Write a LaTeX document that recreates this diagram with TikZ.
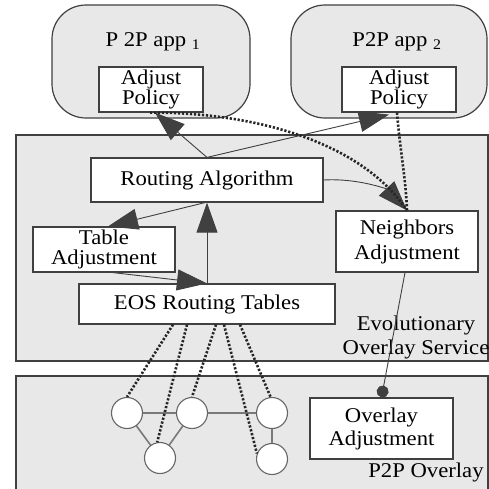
\documentclass[tikz,border=0pt]{standalone}
\usepackage{fontspec}
\setmainfont[FakeStretch=1.08]{Liberation Serif}
\usetikzlibrary{arrows.meta,calc}
\definecolor{panel}{HTML}{E8E8E8}
\definecolor{edge}{HTML}{404040}
\begin{document}
\begin{tikzpicture}[x=1pt,y=-1pt,
  txt/.style={font=\fontsize{21}{21}\selectfont, text=black, align=center, inner sep=0pt},
  appbox/.style={draw=edge, line width=1.2pt, fill=panel, rounded corners=34pt},
  wbox/.style={draw=edge, line width=1.2pt, fill=white, txt},
  panelbox/.style={draw=edge, line width=1.4pt, fill=panel},
  arr/.style={draw=edge, line width=0.9pt, arrows={-Triangle[length=30pt,width=21pt]}},
  dots/.style={line width=2.6pt, dash pattern=on 2.2pt off 1.8pt, draw=black!85},
  peer/.style={circle, draw=edge!80, line width=1.1pt, fill=white, minimum size=31pt, inner sep=0pt},
  plink/.style={draw=edge!70, line width=1.6pt}
]
\clip (0,0) rectangle (489,488);
\fill[white] (0,0) rectangle (489,488);

% application boxes
\node[appbox, minimum width=198pt, minimum height=113pt] (app1) at (151,61.5) {};
\node[appbox, minimum width=196pt, minimum height=113pt] (app2) at (389,61.5) {};
\node[txt] (app1lbl) at (153,42) {P 2P app \textsubscript{1}};
\node[txt] (app2lbl) at (397,42) {P2P app \textsubscript{2}};
\node[wbox, minimum width=104pt, minimum height=45pt, font=\fontsize{21}{20}\selectfont] (ap1) at (151,89.5) {Adjust\\Policy};
\node[wbox, minimum width=114pt, minimum height=45pt, font=\fontsize{21}{20}\selectfont] (ap2) at (399,89.5) {Adjust\\Policy};

% service panel
\node[panelbox, minimum width=472pt, minimum height=226pt, inner sep=0pt] (eosp) at (252,248) {};
\node[wbox, minimum width=232pt, minimum height=44pt] (ra) at (207,180) {Routing Algorithm};
\node[wbox, minimum width=142pt, minimum height=45pt, font=\fontsize{21}{19.5}\selectfont] (ta) at (104,249.5) {Table\\Adjustment};
\node[wbox, minimum width=256pt, minimum height=40pt] (eos) at (207,304) {EOS Routing Tables};
\node[wbox, minimum width=142pt, minimum height=61pt, font=\fontsize{21}{25}\selectfont] (na) at (407,241.5) {Neighbors\\Adjustment};
\node[txt, font=\fontsize{21}{24}\selectfont] (eoslbl) at (416,337) {Evolutionary\\Overlay Service};

% overlay panel
\node[panelbox, minimum width=472pt, minimum height=124pt, inner sep=0pt] (ovp) at (252,438) {};
\node[wbox, minimum width=143pt, minimum height=61pt, font=\fontsize{21}{23}\selectfont] (oa) at (381.5,428.5) {Overlay\\Adjustment};
\node[txt] (ovlbl) at (426,472) {P2P Overlay};

% peers
\coordinate (p1) at (127,413);
\coordinate (p2) at (192,413);
\coordinate (p3) at (160,458);
\coordinate (p4) at (272,413);
\coordinate (p5) at (272,459);
\draw[plink] (p1) -- (p2);
\draw[plink] (p2) -- (p4);
\draw[plink] (p1) -- (p3);
\draw[plink] (p2) -- (p3);
\draw[plink] (p4) -- (p5);
\node[peer] (c1) at (p1) {};
\node[peer] (c2) at (p2) {};
\node[peer] (c3) at (p3) {};
\node[peer] (c4) at (p4) {};
\node[peer] (c5) at (p5) {};

% arrows
\draw[arr] (ra.north) -- ($(ap1.south)+(4,0)$);
\draw[arr] (ra.north) -- ($(ap2.south)+(-10,2)$);
\draw[arr] (ra.east) .. controls (360,178) and (388,190) .. (na.north);
\draw[arr] ($(ra.south)+(-2,0)$) -- ($(ta.north)+(4,0)$);
\draw[arr] (eos.north) -- (ra.south);
\draw[arr] ($(ta.south)+(9,0)$) -- (eos.north);
\draw[draw=edge, line width=0.9pt, arrows={-Circle[length=12pt,width=12pt]}] ($(na.south)+(-2,0)$) -- (oa.north);

% dotted links
\draw[dots] ($(ap1.south)+(-1,0)$) .. controls (250,112) and (360,140) .. (na.north);
\draw[dots] ($(ap2.south)+(-2,0)$) .. controls (400,150) and (406,180) .. (na.north);
\draw[dots] ($(eos.south)+(-34,0)$) -- (c1.north);
\draw[dots] ($(eos.south)+(-20,0)$) -- (c3.100);
\draw[dots] ($(eos.south)+(9,0)$) -- (c2.north);
\draw[dots] ($(eos.south)+(17,0)$) -- (c5.160);
\draw[dots] ($(eos.south)+(33,0)$) -- (c4.95);
\end{tikzpicture}
\end{document}
